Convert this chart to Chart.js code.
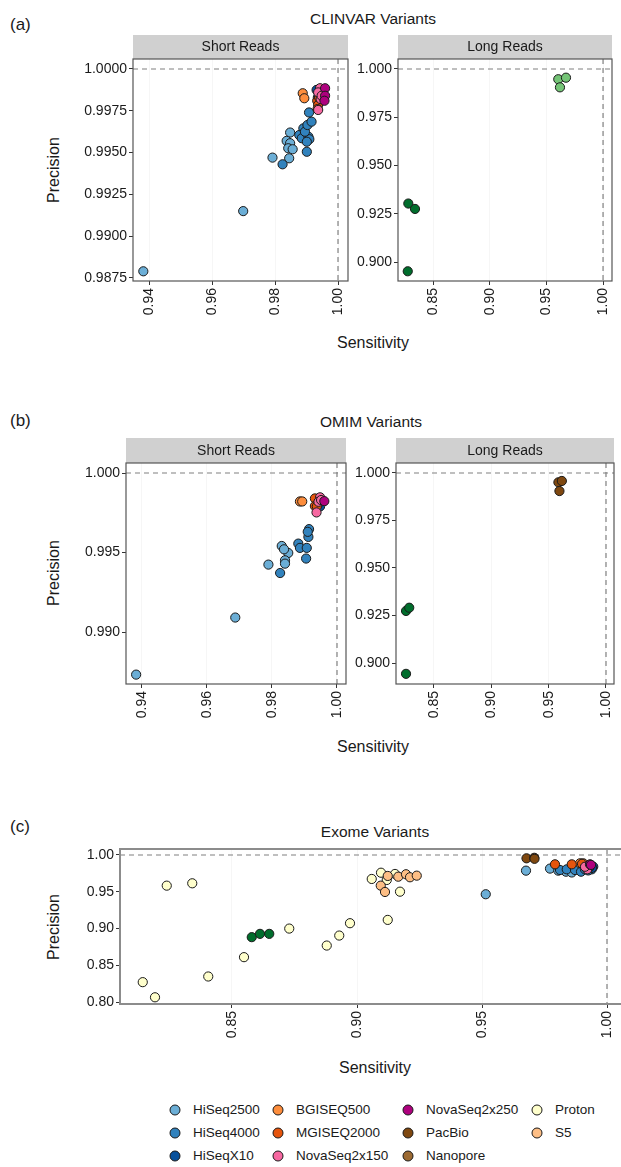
<!DOCTYPE html>
<html>
<head>
<meta charset="utf-8">
<script src="https://cdn.jsdelivr.net/npm/chart.js@4/dist/chart.umd.min.js"></script>
<style>
  html, body { margin: 0; padding: 0; background: #fff; }
  body { width: 621px; height: 1167px; overflow: hidden; position: relative;
         font-family: "Liberation Sans", Arial, Helvetica, sans-serif; color: #1a1a1a; }
  .box { position: absolute; }
  .txt { position: absolute; white-space: nowrap; transform: translate(-50%, -50%); line-height: 1; }
  .tag { position: absolute; white-space: nowrap; transform: translateY(-50%); line-height: 1; }
  .vtxt { position: absolute; white-space: nowrap; transform: translate(-50%, -50%) rotate(-90deg); line-height: 1; }
  .dot { position: absolute; width: 9px; height: 9px; border: 1px solid #1a1a1a; border-radius: 50%;
         transform: translate(-50%, -50%); }
</style>
</head>
<body>
<script>
// ---------- platforms ----------
const platformNames = ['HiSeq2500', 'HiSeq4000', 'HiSeqX10', 'BGISEQ500', 'MGISEQ2000',
  'NovaSeq2x150', 'NovaSeq2x250', 'PacBio', 'Nanopore', 'Proton', 'S5'];
const platformColors = ['#6baed6', '#3182bd', '#08519c', '#fd8d3c', '#e6550d',
  '#f768a1', '#ae017e', '#7f4810', '#9c6a32', '#ffffcc', '#fdbe85'];

// ---------- tick labels ----------
const clinvarShortXTicks = ['0.94', '0.96', '0.98', '1.00'];
const clinvarShortYTicks = ['0.9875', '0.9900', '0.9925', '0.9950', '0.9975', '1.0000'];
const clinvarLongXTicks = ['0.85', '0.90', '0.95', '1.00'];
const clinvarLongYTicks = ['0.900', '0.925', '0.950', '0.975', '1.000'];
const omimShortXTicks = ['0.94', '0.96', '0.98', '1.00'];
const omimShortYTicks = ['0.990', '0.995', '1.000'];
const omimLongXTicks = ['0.85', '0.90', '0.95', '1.00'];
const omimLongYTicks = ['0.900', '0.925', '0.950', '0.975', '1.000'];
const exomeXTicks = ['0.85', '0.90', '0.95', '1.00'];
const exomeYTicks = ['0.80', '0.85', '0.90', '0.95', '1.00'];
const perfectScore = 1.0;

// ---------- CLINVAR, short reads: [sensitivity, precision] ----------
const clinvarShortHiSeq2500 = [[0.9382, 0.9879], [0.9699, 0.9915], [0.9792, 0.9947], [0.9848, 0.9962],
  [0.9837, 0.9957], [0.9848, 0.99556], [0.9842, 0.99526], [0.9856, 0.9952], [0.9845, 0.99466]];
const clinvarShortHiSeq4000 = [[0.9824, 0.9943], [0.9877, 0.99605], [0.9885, 0.99586], [0.9906, 0.99595],
  [0.9909, 0.9958], [0.9901, 0.99565], [0.9890, 0.99645], [0.9895, 0.99625], [0.9903, 0.99665],
  [0.9916, 0.99685], [0.9908, 0.9974], [0.9901, 0.99505]];
const clinvarShortHiSeqX10 = [[0.9932, 0.99875], [0.9936, 0.9983], [0.9940, 0.9980], [0.9945, 0.9986]];
const clinvarShortBGISEQ500 = [[0.9888, 0.99855], [0.9893, 0.99825]];
const clinvarShortMGISEQ2000 = [[0.9934, 0.9981], [0.9937, 0.99785], [0.9940, 0.9983], [0.9935, 0.9976]];
const clinvarShortNovaSeq2x150 = [[0.9943, 0.99885], [0.9937, 0.9986], [0.9937, 0.99755], [0.9945, 0.9982], [0.9948, 0.9984]];
const clinvarShortNovaSeq2x250 = [[0.9959, 0.99885], [0.9959, 0.9984], [0.9957, 0.9981]];

// ---------- CLINVAR, long reads ----------
const clinvarLongPacBio = [[0.9605, 0.9947], [0.9673, 0.9955], [0.9620, 0.9905]];
const clinvarLongNanopore = [[0.8282, 0.9303], [0.8341, 0.9275], [0.8277, 0.8952]];

// ---------- OMIM, short reads ----------
const omimShortHiSeq2500 = [[0.9382, 0.98732], [0.9687, 0.99091], [0.9789, 0.99424], [0.9830, 0.99541],
  [0.9850, 0.99497], [0.9840, 0.99451], [0.9840, 0.9943], [0.9837, 0.9952]];
const omimShortHiSeq4000 = [[0.9825, 0.99371], [0.9881, 0.99556], [0.9886, 0.99529], [0.9907, 0.99529],
  [0.9905, 0.99462], [0.9912, 0.99598], [0.9914, 0.99647], [0.9910, 0.9963]];
const omimShortHiSeqX10 = [[0.9948, 0.9979], [0.9944, 0.9981]];
const omimShortBGISEQ500 = [[0.9886, 0.99821], [0.9893, 0.99821]];
const omimShortMGISEQ2000 = [[0.9932, 0.9984], [0.9932, 0.99792], [0.9938, 0.9979]];
const omimShortNovaSeq2x150 = [[0.9937, 0.99752], [0.9948, 0.99847], [0.9943, 0.99819], [0.9951, 0.9983]];
const omimShortNovaSeq2x250 = [[0.9961, 0.99823]];

// ---------- OMIM, long reads ----------
const omimLongPacBio = [[0.9585, 0.9951], [0.9615, 0.9958], [0.9594, 0.9905]];
const omimLongNanopore = [[0.8256, 0.9274], [0.8284, 0.9291], [0.8256, 0.8943]];

// ---------- Exome ----------
const exomeHiSeq2500 = [[0.9515, 0.9466], [0.9676, 0.9787], [0.9772, 0.9815], [0.9805, 0.9787],
  [0.9836, 0.9773], [0.9859, 0.9762], [0.9885, 0.9800]];
const exomeHiSeq4000 = [[0.9812, 0.9796], [0.9839, 0.9805], [0.9872, 0.9796], [0.9896, 0.9773],
  [0.9912, 0.9805], [0.9939, 0.9805], [0.9925, 0.9790]];
const exomeHiSeqX10 = [[0.9945, 0.9841], [0.9940, 0.9825], [0.9930, 0.9835]];
const exomeBGISEQ500 = [[0.9892, 0.9887], [0.9905, 0.9887]];
const exomeMGISEQ2000 = [[0.9792, 0.9873], [0.9859, 0.9873], [0.9900, 0.9880]];
const exomeNovaSeq2x150 = [[0.9921, 0.9805], [0.9912, 0.9840]];
const exomeNovaSeq2x250 = [[0.9932, 0.9873], [0.9936, 0.9865]];
const exomePacBio = [[0.9678, 0.9955], [0.9709, 0.9962], [0.9710, 0.9948]];
const exomeNanopore = [[0.8579, 0.8882], [0.8612, 0.8927], [0.8649, 0.8927]];
const exomeProton = [[0.8143, 0.8270], [0.8192, 0.8064], [0.8239, 0.9583], [0.8341, 0.9615],
  [0.8405, 0.8347], [0.8548, 0.8610], [0.8729, 0.8999], [0.8879, 0.8768], [0.8929, 0.8904],
  [0.8972, 0.9072], [0.9059, 0.9674], [0.9096, 0.9759], [0.9119, 0.9660], [0.9152, 0.9742],
  [0.9172, 0.9501], [0.9123, 0.9117]];
const exomeS5 = [[0.9123, 0.9715], [0.9095, 0.9583], [0.9112, 0.9497], [0.9165, 0.9705],
  [0.9196, 0.9738], [0.9212, 0.9697], [0.9239, 0.9719]];

// ---------- look-up tables per panel ----------
const clinvarShortSeries = { HiSeq2500: clinvarShortHiSeq2500, HiSeq4000: clinvarShortHiSeq4000,
  HiSeqX10: clinvarShortHiSeqX10, BGISEQ500: clinvarShortBGISEQ500, MGISEQ2000: clinvarShortMGISEQ2000,
  NovaSeq2x150: clinvarShortNovaSeq2x150, NovaSeq2x250: clinvarShortNovaSeq2x250 };
const clinvarLongSeries = { PacBio: clinvarLongPacBio, Nanopore: clinvarLongNanopore };
const omimShortSeries = { HiSeq2500: omimShortHiSeq2500, HiSeq4000: omimShortHiSeq4000,
  HiSeqX10: omimShortHiSeqX10, BGISEQ500: omimShortBGISEQ500, MGISEQ2000: omimShortMGISEQ2000,
  NovaSeq2x150: omimShortNovaSeq2x150, NovaSeq2x250: omimShortNovaSeq2x250 };
const omimLongSeries = { PacBio: omimLongPacBio, Nanopore: omimLongNanopore };
const exomeSeries = { HiSeq2500: exomeHiSeq2500, HiSeq4000: exomeHiSeq4000, HiSeqX10: exomeHiSeqX10,
  BGISEQ500: exomeBGISEQ500, MGISEQ2000: exomeMGISEQ2000, NovaSeq2x150: exomeNovaSeq2x150,
  NovaSeq2x250: exomeNovaSeq2x250, PacBio: exomePacBio, Nanopore: exomeNanopore,
  Proton: exomeProton, S5: exomeS5 };

// ---------- styling ----------
const FONT = '"Liberation Sans", Arial, Helvetica, sans-serif';
const INK = '#1a1a1a';
const Y_AXIS_W = 70;
const X_AXIS_H = 50;

// frame, strip header and reference lines drawn around the chart area
const framePlugin = {
  id: 'frame',
  beforeDraw(chart, args, opts) {
    const { ctx, chartArea: a } = chart;
    if (opts.strip) {
      ctx.save();
      ctx.fillStyle = '#d0d0d0';
      ctx.fillRect(a.left, a.top - opts.stripH, a.right - a.left, opts.stripH);
      ctx.fillStyle = INK;
      ctx.font = '14px ' + FONT;
      ctx.textAlign = 'center';
      ctx.textBaseline = 'middle';
      ctx.fillText(opts.strip, (a.left + a.right) / 2, a.top - opts.stripH / 2 + 0.5);
      ctx.restore();
    }
  },
  beforeDatasetsDraw(chart, args, opts) {
    const { ctx, chartArea: a, scales } = chart;
    const px = scales.x.getPixelForValue(perfectScore);
    const py = scales.y.getPixelForValue(perfectScore);
    ctx.save();
    ctx.strokeStyle = '#808080';
    ctx.lineWidth = 1.2;
    ctx.setLineDash([5, 4]);
    ctx.beginPath();
    ctx.moveTo(a.left, py); ctx.lineTo(a.right, py);
    ctx.moveTo(px, a.top); ctx.lineTo(px, a.bottom);
    ctx.stroke();
    ctx.restore();
  },
  afterDraw(chart, args, opts) {
    const { ctx, chartArea: a } = chart;
    ctx.save();
    ctx.strokeStyle = opts.frameColor;
    ctx.lineWidth = opts.frameWidth;
    ctx.strokeRect(a.left, a.top, a.right - a.left, a.bottom - a.top);
    ctx.restore();
  }
};

function tickValues(labels) { return labels.map(t => ({ value: parseFloat(t) })); }

function makePanel(spec) {
  const boxLeft = spec.plot.l - Y_AXIS_W;
  const boxTop = spec.plot.t - spec.stripH;
  const boxW = spec.plot.r + spec.padR - boxLeft;
  const boxH = spec.plot.b + X_AXIS_H - boxTop;
  const wrap = document.createElement('div');
  wrap.className = 'box';
  Object.assign(wrap.style, { left: boxLeft + 'px', top: boxTop + 'px', width: boxW + 'px', height: boxH + 'px' });
  const cv = document.createElement('canvas');
  cv.width = boxW; cv.height = boxH;
  cv.style.width = boxW + 'px'; cv.style.height = boxH + 'px';
  wrap.appendChild(cv);
  document.body.appendChild(wrap);

  const names = platformNames.filter(n => spec.series[n]);
  const datasets = names.map((n, i) => {
    const fill = (spec.fills && spec.fills[n]) || platformColors[platformNames.indexOf(n)];
    return {
      label: n,
      data: spec.series[n].map(p => ({ x: p[0], y: p[1] })),
      backgroundColor: fill,
      borderColor: INK,
      borderWidth: 1,
      pointRadius: 4.6,
      order: names.length - i,
      clip: false
    };
  });

  const tickFont = { family: FONT, size: 14 };
  new Chart(cv, {
    type: 'scatter',
    data: { datasets },
    options: {
      responsive: false,
      animation: false,
      devicePixelRatio: 1,
      events: [],
      layout: { autoPadding: false, padding: { top: spec.stripH, right: spec.padR, left: 0, bottom: 0 } },
      plugins: {
        legend: { display: false },
        tooltip: { enabled: false },
        frame: { strip: spec.strip, stripH: spec.stripH, frameColor: spec.frameColor, frameWidth: spec.frameWidth }
      },
      scales: {
        x: {
          type: 'linear', position: 'bottom', min: spec.xRange[0], max: spec.xRange[1],
          afterBuildTicks: s => { s.ticks = tickValues(spec.xTicks); },
          afterFit: s => { s.height = X_AXIS_H; s.paddingLeft = 0; s.paddingRight = 0; },
          ticks: { autoSkip: false, minRotation: 90, maxRotation: 90, padding: 3, color: INK, font: tickFont,
                   callback: (v, i) => spec.xTicks[i] },
          grid: { drawOnChartArea: true, color: '#f6f6f6', tickColor: '#333', tickLength: 4, lineWidth: 1 },
          border: { display: false }
        },
        y: {
          type: 'linear', position: 'left', min: spec.yRange[0], max: spec.yRange[1],
          afterBuildTicks: s => { s.ticks = tickValues(spec.yTicks); },
          afterFit: s => { s.width = Y_AXIS_W; s.paddingTop = 0; s.paddingBottom = 0; },
          ticks: { autoSkip: false, padding: 2, color: INK, font: tickFont,
                   callback: (v, i) => spec.yTicks[i] },
          grid: { drawOnChartArea: false, tickColor: '#333', tickLength: 4 },
          border: { display: false }
        }
      }
    },
    plugins: [framePlugin]
  });
}

function addText(cls, text, x, y, size) {
  const d = document.createElement('div');
  d.className = cls;
  d.textContent = text;
  Object.assign(d.style, { left: x + 'px', top: y + 'px', fontSize: size + 'px' });
  document.body.appendChild(d);
  return d;
}

const smallFrame = { frameColor: '#555555', frameWidth: 1.2 };

// (a) CLINVAR
addText('tag', '(a)', 10, 24, 17);
addText('txt', 'CLINVAR Variants', 373, 19, 15.5);
addText('vtxt', 'Precision', 54, 170, 16);
addText('txt', 'Sensitivity', 373, 343, 16);
makePanel(Object.assign({ series: clinvarShortSeries, strip: 'Short Reads', stripH: 24, padR: 6,
  plot: { l: 133, t: 59, r: 348, b: 281 }, xRange: [0.93492, 1.00317], yRange: [0.98732, 1.000598],
  xTicks: clinvarShortXTicks, yTicks: clinvarShortYTicks }, smallFrame));
makePanel(Object.assign({ series: clinvarLongSeries, strip: 'Long Reads', stripH: 24, padR: 8,
  fills: { PacBio: '#74c476', Nanopore: '#006d2c' },
  plot: { l: 398, t: 59, r: 612, b: 281 }, xRange: [0.8191, 1.0079], yRange: [0.89016, 1.00518],
  xTicks: clinvarLongXTicks, yTicks: clinvarLongYTicks }, smallFrame));

// (b) OMIM
addText('tag', '(b)', 10, 420, 17);
addText('txt', 'OMIM Variants', 371, 422, 15.5);
addText('vtxt', 'Precision', 54, 573, 16);
addText('txt', 'Sensitivity', 373, 747, 16);
makePanel(Object.assign({ series: omimShortSeries, strip: 'Short Reads', stripH: 25, padR: 6,
  plot: { l: 126, t: 463, r: 346, b: 684 }, xRange: [0.93508, 1.00277], yRange: [0.98673, 1.000629],
  xTicks: omimShortXTicks, yTicks: omimShortYTicks }, smallFrame));
makePanel(Object.assign({ series: omimLongSeries, strip: 'Long Reads', stripH: 25, padR: 6,
  fills: { Nanopore: '#006d2c' },
  plot: { l: 396, t: 463, r: 614, b: 684 }, xRange: [0.81686, 1.00698], yRange: [0.88895, 1.00526],
  xTicks: omimLongXTicks, yTicks: omimLongYTicks }, smallFrame));

// (c) Exome
addText('tag', '(c)', 10, 826, 17);
addText('txt', 'Exome Variants', 375, 832, 15.5);
addText('vtxt', 'Precision', 54, 927, 16);
addText('txt', 'Sensitivity', 375, 1068, 16);
makePanel({ series: exomeSeries, strip: null, stripH: 4, padR: 0,
  fills: { Nanopore: '#006d2c' },
  plot: { l: 120, t: 849, r: 624, b: 1004 }, xRange: [0.8052, 1.0068], yRange: [0.79728, 1.00816],
  xTicks: exomeXTicks, yTicks: exomeYTicks, frameColor: '#8c8c8c', frameWidth: 2 });

// legend: platforms laid out three per column
const legendColX = [175, 278, 408, 537];
const legendRowY = [1110, 1133, 1156];
platformNames.forEach((n, i) => {
  const col = Math.floor(i / 3), row = i % 3;
  const dot = document.createElement('div');
  dot.className = 'dot';
  Object.assign(dot.style, { left: legendColX[col] + 'px', top: legendRowY[row] + 'px', background: platformColors[i] });
  document.body.appendChild(dot);
  addText('tag', n, legendColX[col] + 18, legendRowY[row], 13.5);
});
</script>
</body>
</html>
